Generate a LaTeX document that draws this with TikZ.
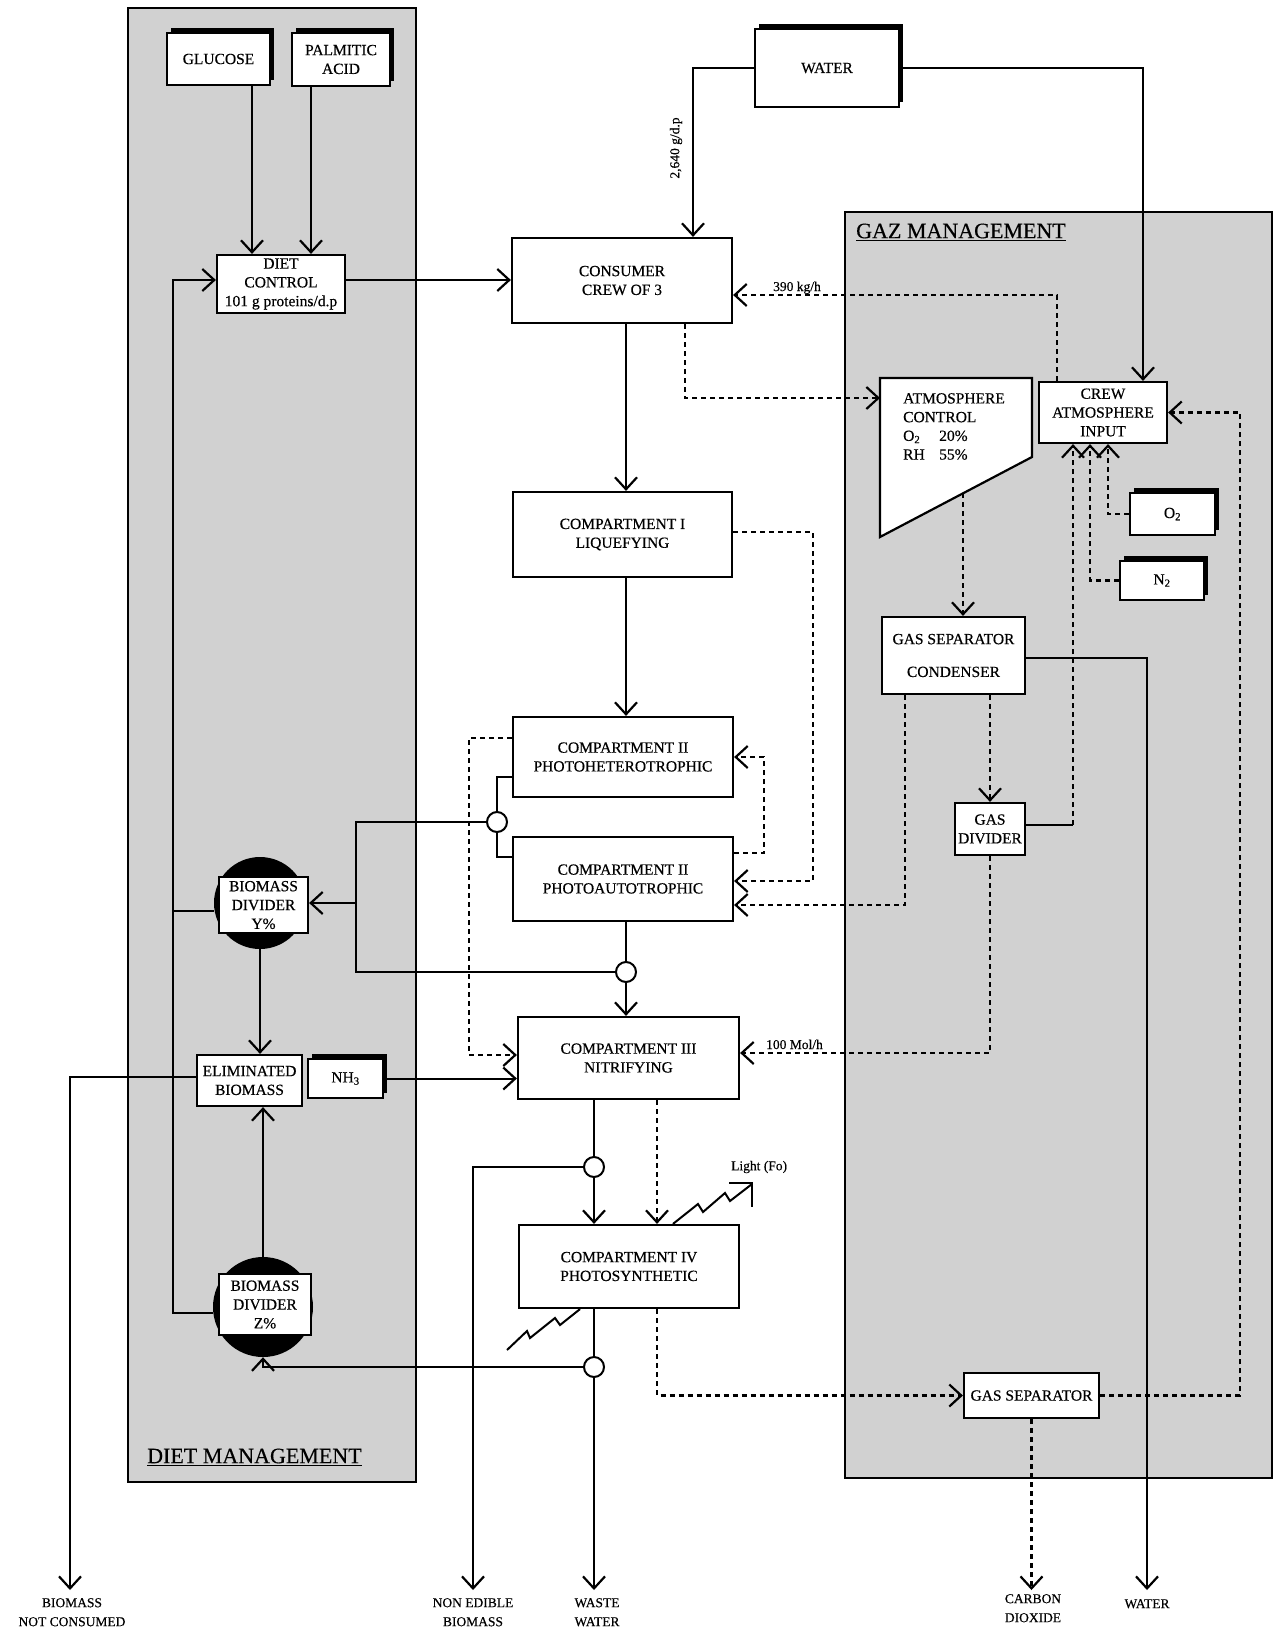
\documentclass[tikz,border=0pt]{standalone}
\usepackage{fontspec}
\setmainfont{Liberation Serif}[FakeBold=0.35]
\usetikzlibrary{arrows.meta,calc,shadows}
\begin{document}
\begin{tikzpicture}[x=1pt,y=-1pt,
  ln/.style={line width=2pt},
  arr/.style={line width=2pt,-{Straight Barb[length=12pt,width=22pt,line width=2.2pt]}},
  dsh/.style={line width=2.6pt,dash pattern=on 5pt off 4pt},
  darr/.style={dsh,-{Straight Barb[length=12pt,width=22pt,line width=2.2pt]}},
  box/.style={draw,fill=white,line width=2.2pt,inner sep=0pt,align=center,font=\fontsize{15.5}{18.8}\selectfont},
  sbox/.style={drop shadow={shadow xshift=4pt,shadow yshift=5pt,fill=black,opacity=1}},
  panel/.style={draw,line width=2.6pt,fill=black!18},
  junc/.style={circle,draw,fill=white,line width=2pt,minimum size=20pt,inner sep=0pt},
  disc/.style={circle,fill=black,minimum size=#1,inner sep=0pt},
  lbl/.style={font=\fontsize{13.5}{19}\selectfont,align=center,inner sep=0pt},
  ttl/.style={font=\fontsize{22}{24}\selectfont,inner sep=0pt},
]
\fill[white] (0,0) rectangle (1278,1638);
\useasboundingbox (0,0) rectangle (1278,1638);

% panels
\draw[panel] (128,8) rectangle (416,1482);
\draw[panel] (845,212) rectangle (1272,1478);
\node[ttl,anchor=west] (gaztitle) at (856,232) {\underline{GAZ MANAGEMENT}};
\node[ttl,anchor=west] (diettitle) at (147,1457) {\underline{DIET MANAGEMENT}};

% diet nodes
\node[box,sbox,minimum width=103pt,minimum height=52pt] (glucose) at (218.5,59) {GLUCOSE};
\node[box,sbox,minimum width=98pt,minimum height=53pt] (palmitic) at (341,59.5) {PALMITIC\\ACID};
\node[box,minimum width=128pt,minimum height=58pt] (dietctl) at (281,284) {DIET\\CONTROL\\101 g proteins/d.p};
\coordinate (dcw) at ([yshift=4]dietctl.west);
\node[disc=92pt] (bdYc) at (260,903) {};
\node[box,minimum width=89pt,minimum height=56pt] (bdY) at (263.5,905) {BIOMASS\\DIVIDER\\Y\%};
\node[box,minimum width=105pt,minimum height=51pt] (elim) at (249.5,1080.5) {ELIMINATED\\BIOMASS};
\node[box,sbox,minimum width=75pt,minimum height=39pt] (nh3) at (345.5,1078.5) {NH\textsubscript{3}};
\node[disc=100pt] (bdZc) at (263,1307) {};
\node[box,minimum width=92pt,minimum height=61pt] (bdZ) at (265,1304.5) {BIOMASS\\DIVIDER\\Z\%};

% centre nodes
\node[box,sbox,minimum width=144pt,minimum height=78pt] (water) at (827,68) {WATER};
\node[box,minimum width=220pt,minimum height=85pt] (consumer) at (622,280.5) {CONSUMER\\CREW OF 3};
\node[box,minimum width=219pt,minimum height=85pt] (comp1) at (622.5,534.5) {COMPARTMENT I\\LIQUEFYING};
\node[box,minimum width=220pt,minimum height=80pt] (comp2h) at (623,757) {COMPARTMENT II\\PHOTOHETEROTROPHIC};
\node[box,minimum width=220pt,minimum height=84pt] (comp2a) at (623,879) {COMPARTMENT II\\PHOTOAUTOTROPHIC};
\node[box,minimum width=221pt,minimum height=82pt] (comp3) at (628.5,1058) {COMPARTMENT III\\NITRIFYING};
\node[box,minimum width=220pt,minimum height=83pt] (comp4) at (629,1266.5) {COMPARTMENT IV\\PHOTOSYNTHETIC};

% gas nodes
\draw[line width=2.2pt,fill=white] (880,378) -- (1032,378) -- (1032,457) -- (880,537) -- cycle;
\node[anchor=north west,align=left,inner sep=0pt,font=\fontsize{15.5}{18.7}\selectfont] (atmctl) at (903,393)
  {ATMOSPHERE\\CONTROL\\\makebox[36pt][l]{O\textsubscript{2}}20\%\\\makebox[36pt][l]{RH}55\%};
\coordinate (atmW) at (880,398);
\coordinate (atmS) at (963,493);
\node[box,minimum width=128pt,minimum height=61pt] (crewatm) at (1103,412.5) {CREW\\ATMOSPHERE\\INPUT};
\node[box,sbox,minimum width=85pt,minimum height=42pt] (o2) at (1172.5,514) {O\textsubscript{2}};
\node[box,sbox,minimum width=84pt,minimum height=39pt] (n2) at (1162,580.5) {N\textsubscript{2}};
\node[box,minimum width=143pt,minimum height=77pt] (gassepcond) at (953.5,655.5) {GAS SEPARATOR\\[14pt]CONDENSER};
\node[box,minimum width=70pt,minimum height=52pt] (gasdiv) at (990,829) {GAS\\DIVIDER};
\node[box,minimum width=135pt,minimum height=45pt] (gassep) at (1031.5,1395.5) {GAS SEPARATOR};

% junctions
\node[junc] (j1) at (497,822) {};
\node[junc] (j2) at (626,972) {};
\node[junc] (j3) at (594,1167) {};
\node[junc] (j4) at (594,1367) {};

% helper coordinates
\coordinate (gl) at (252,0);
\coordinate (pa) at (311,0);
\coordinate (mx) at (626,0);
\coordinate (dx) at (685,0);
\coordinate (dx2) at (657,0);
\coordinate (gx1) at (905,0);
\coordinate (cx1) at (1073,0);
\coordinate (cx2) at (1090,0);
\coordinate (cx3) at (1108,0);
\coordinate (k1) at (813,881);
\coordinate (k2) at (1240,0);
\coordinate (k3) at (469,1055);
\coordinate (k4) at (356,972);
\coordinate (k5) at (356,903);
\coordinate (fb) at (173,0);
\coordinate (outbnc) at (70,1590);
\coordinate (outneb) at (473,1590);
\coordinate (outww) at (594,1590);
\coordinate (outco2) at (1033,1590);
\coordinate (outwater) at (1147,1590);

% diet connectors
\draw[arr] (glucose.south -| gl) -- (dietctl.north -| gl);
\draw[arr] (palmitic.south -| pa) -- (dietctl.north -| pa);
\draw[arr] ([yshift=4]dietctl.east) -- ([yshift=4]dietctl.east -| consumer.west);
\draw[arr] (bdYc.south) -- (elim.north -| bdYc.south);
\draw[ln] ([yshift=-8]bdYc.west) -- ([yshift=-8]bdYc.west -| fb);
\draw[arr] ([yshift=-6]bdZc.west) -| (fb |- dcw) -- (dcw);
\draw[arr] (bdZc.north) -- (elim.south -| bdZc.north);
\draw[arr] ([yshift=3.5]elim.west) -| (outbnc);
\draw[arr] (nh3.east) -- (nh3.east -| comp3.west);

% water / consumer
\draw[arr] (water.west) -| ([xshift=71]consumer.north);
\node[lbl,rotate=90] (lbl2640) at (676,148) {2,640 g/d.p};
\draw[arr] (water.east) -| ([xshift=40]crewatm.north);
\draw[darr] ([xshift=-46]crewatm.north) |- ([yshift=-14.5]consumer.east);
\node[lbl,anchor=base west] (lbl390) at (773,291) {390 kg/h};
\draw[arr] (consumer.south -| mx) -- (comp1.north -| mx);
\draw[darr] (consumer.south -| dx) |- (atmW);
\draw[arr] (comp1.south -| mx) -- (comp2h.north -| mx);
\draw[darr] ([yshift=2.5]comp1.east) -| (k1) -- (k1 -| comp2a.east);
\draw[darr] ([yshift=26]comp2a.east) -| ([xshift=30]comp2h.east) -- (comp2h.east);

% compartment II bracket
\draw[ln] ([yshift=-20]comp2h.west) -| (j1.north);
\draw[ln] (j1.south) |- ([yshift=22]comp2a.west);
\draw[ln] (j1.west) -| (k4) -- (j2.west);
\draw[arr] (k5) -- (k5 -| bdY.east);
\draw[ln] (comp2a.south -| j2) -- (j2.north);
\draw[arr] (j2.south) -- (comp3.north -| j2);
\draw[darr] ([yshift=19]comp2h.west) -| (k3) -- (k3 -| comp3.west);

% gas connectors
\draw[darr] (atmS) -- (gassepcond.north -| atmS);
\draw[darr] (gassepcond.south -| gx1) |- ([yshift=-26]comp2a.east);
\draw[arr] ([yshift=-2.5]gassepcond.east) -| (outwater);
\draw[darr] (gassepcond.south -| gasdiv.north) -- (gasdiv.north);
\draw[ln] ([yshift=4]gasdiv.east) -- ([yshift=4]gasdiv.east -| cx1);
\draw[darr] ([yshift=4]gasdiv.east -| cx1) -- (crewatm.south -| cx1);
\draw[darr] (n2.west) -| (crewatm.south -| cx2);
\draw[darr] (o2.west) -| (crewatm.south -| cx3);
\draw[darr] (gasdiv.south) |- ([yshift=5]comp3.east);
\node[lbl,anchor=base west] (lbl100) at (766,1049) {100 Mol/h};
\draw[darr] (gassep.east) -| (k2 |- crewatm.east) -- (crewatm.east);

% compartments III / IV
\draw[ln] (comp3.south -| j3) -- (j3.north);
\draw[arr] (j3.south) -- (comp4.north -| j3);
\draw[arr] (j3.west) -| (outneb);
\draw[darr] (comp3.south -| dx2) -- (comp4.north -| dx2);
\draw[ln] (comp4.south -| j4) -- (j4.north);
\draw[arr] (j4.south) -- (outww);
\draw[arr] (j4.west) -| (bdZc.south);
\draw[darr] (comp4.south -| dx2) |- (gassep.west);
\draw[darr] (gassep.south) -- (gassep.south |- outco2);

% light zigzags
\draw[ln,line join=miter] ([xshift=44]comp4.north) -- (698,1204) -- (703,1212) -- (725,1193) -- (730,1201) -- (752,1184);
\draw[ln] (729,1183) -- (752,1183) -- (752,1207);
\node[lbl,anchor=west] (light) at (731,1167) {Light (Fo)};
\draw[ln,line join=miter] ([xshift=-49]comp4.south) -- (560,1325) -- (555,1318) -- (530,1338) -- (527,1331) -- (507,1350);

% outputs
\node[lbl,anchor=north] (tbnc) at (72,1598) {BIOMASS\\NOT CONSUMED};
\node[lbl,anchor=north] (tneb) at (473,1598) {NON EDIBLE\\BIOMASS};
\node[lbl,anchor=north] (tww) at (597,1598) {WASTE\\WATER};
\node[lbl,anchor=north] (tco2) at (1033,1594) {CARBON\\DIOXIDE};
\node[lbl,anchor=north] (twat) at (1147,1599) {WATER};
\end{tikzpicture}
\end{document}
